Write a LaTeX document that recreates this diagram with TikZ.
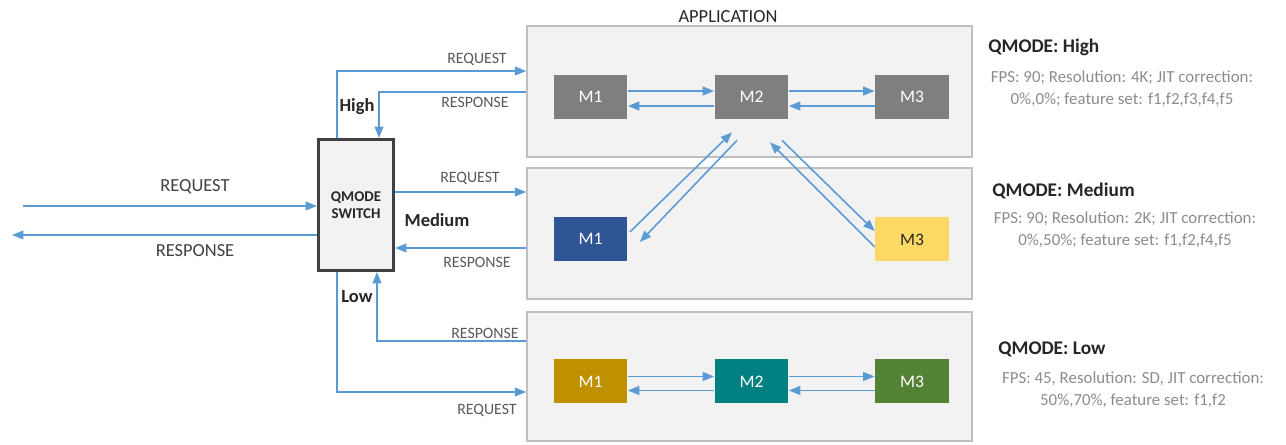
\documentclass[tikz,border=0pt]{standalone}
\usepackage{fontspec}
\setmainfont{Carlito}
\usetikzlibrary{positioning,arrows.meta}
\definecolor{lineblue}{HTML}{5B9BD5}
\definecolor{panelfill}{HTML}{F2F2F2}
\definecolor{panelgray}{HTML}{BFBFBF}
\definecolor{switchgray}{HTML}{404040}
\definecolor{labelgray}{HTML}{404040}
\definecolor{smallgray}{HTML}{595959}
\definecolor{descgray}{HTML}{8C8C8C}
\definecolor{darktext}{HTML}{262626}
\definecolor{modgray}{HTML}{7F7F7F}
\definecolor{modblue}{HTML}{2F5597}
\definecolor{modyellow}{HTML}{FFD966}
\definecolor{modgold}{HTML}{BF9000}
\definecolor{modteal}{HTML}{008080}
\definecolor{modgreen}{HTML}{548235}

\begin{document}
\begin{tikzpicture}[x=0.02cm,y=-0.02cm,
  panel/.style={draw=panelgray,fill=panelfill,line width=0.9pt,minimum width=8.9cm,minimum height=2.62cm},
  module/.style={minimum width=1.48cm,minimum height=0.88cm,text=white,font=\fontsize{10}{12}\selectfont},
  link/.style={draw=lineblue,line width=0.9pt,-{Triangle[length=6.5pt,width=5pt]}},
  biglabel/.style={text=labelgray,font=\fontsize{10.5}{12}\selectfont},
  smalllabel/.style={text=smallgray,font=\fontsize{9}{10}\selectfont},
  modelabel/.style={text=darktext,font=\bfseries\fontsize{10.5}{12}\selectfont},
  qtitle/.style={anchor=west,inner xsep=0pt,text=darktext,font=\bfseries\fontsize{11}{13}\selectfont},
  qtext/.style={align=center,text=descgray,font=\fontsize{9.6}{12.5}\selectfont}]
\useasboundingbox (0,0) rectangle (1286,445);

\node[panel] (ptop) at (749.5,91.5) {};
\node[panel] (pmid) at (749.5,233.5) {};
\node[panel,minimum height=2.58cm] (pbot) at (749.5,376.5) {};
\node[text=darktext,font=\fontsize{10.5}{12}\selectfont] (app) at (728,17) {APPLICATION};

\node[module,fill=modgray] (m1t) at (590.5,97) {M1};
\node[module,fill=modgray] (m2t) at (751.5,97) {M2};
\node[module,fill=modgray] (m3t) at (912,97) {M3};
\node[module,fill=modblue] (m1m) at (590.5,239) {M1};
\node[module,fill=modyellow,text=darktext] (m3m) at (912,239.5) {M3};
\node[module,fill=modgold] (m1b) at (590.5,381.5) {M1};
\node[module,fill=modteal] (m2b) at (751.5,381.5) {M2};
\node[module,fill=modgreen] (m3b) at (912,381.5) {M3};

\node[draw=switchgray,fill=panelfill,line width=1.7pt,minimum width=1.5cm,minimum height=2.62cm,
  align=center,text=darktext,font=\bfseries\fontsize{8.5}{10}\selectfont] (sw) at (356,205) {QMODE\\SWITCH};

% outside world
\coordinate (lin) at (23,206);
\coordinate (lout) at (12,235);
\draw[link] (lin) -- (lin -| sw.west);
\draw[link] (lout -| sw.west) -- (lout);
\node[biglabel] (lreq) at (195,187) {REQUEST};
\node[biglabel] (lres) at (195,251) {RESPONSE};

% high
\coordinate (hiout) at (337,71);
\coordinate (hiin) at (379,92);
\draw[link] (hiout |- sw.north) -- (hiout) -- (hiout -| ptop.west);
\draw[link] (hiin -| ptop.west) -- (hiin) -- (hiin |- sw.north);
\node[smalllabel] (hreq) at (477,59) {REQUEST};
\node[smalllabel] (hres) at (475,102) {RESPONSE};
\node[modelabel] (hi) at (357,107) {High};

% medium
\coordinate (mdout) at (0,192);
\coordinate (mdin) at (0,248);
\draw[link] (mdout -| sw.east) -- (mdout -| pmid.west);
\draw[link] (mdin -| pmid.west) -- (mdin -| sw.east);
\node[smalllabel] (mreq) at (470,178) {REQUEST};
\node[smalllabel] (mres) at (477,262) {RESPONSE};
\node[modelabel] (md) at (437,220) {Medium};

% low
\coordinate (loout) at (337,392);
\coordinate (loin) at (377,341);
\draw[link] (loout |- sw.south) -- (loout) -- (loout -| pbot.west);
\draw[link] (loin -| pbot.west) -- (loin) -- (loin |- sw.south);
\node[smalllabel] (lores) at (485,333) {RESPONSE};
\node[smalllabel] (loreq) at (487,410) {REQUEST};
\node[modelabel] (lo) at (357,297) {Low};

% module links
\draw[link] ([yshift=0.12cm]m1t.east) -- ([yshift=0.12cm]m2t.west);
\draw[link] ([yshift=-0.18cm]m2t.west) -- ([yshift=-0.18cm]m1t.east);
\draw[link] ([yshift=0.12cm]m2t.east) -- ([yshift=0.12cm]m3t.west);
\draw[link] ([yshift=-0.18cm]m3t.west) -- ([yshift=-0.18cm]m2t.east);
\draw[link] ([yshift=0.1cm]m1b.east) -- ([yshift=0.1cm]m2b.west);
\draw[link] ([yshift=-0.18cm]m2b.west) -- ([yshift=-0.18cm]m1b.east);
\draw[link] ([yshift=0.1cm]m2b.east) -- ([yshift=0.1cm]m3b.west);
\draw[link] ([yshift=-0.18cm]m3b.west) -- ([yshift=-0.18cm]m2b.east);
\draw[link] ([shift={(0.04cm,0.14cm)}]m1m.east) -- ([shift={(-0.39cm,-0.26cm)}]m2t.south);
\draw[link] ([shift={(-0.29cm,-0.42cm)}]m2t.south) -- ([shift={(0.24cm,-0.06cm)}]m1m.east);
\draw[link] ([shift={(0.61cm,-0.42cm)}]m2t.south) -- ([yshift=0.17cm]m3m.west);
\draw[link] ([yshift=-0.15cm]m3m.west) -- ([shift={(0.37cm,-0.46cm)}]m2t.south);

% mode settings
\node[qtitle] (qh) at (988,47) {QMODE: High};
\node[qtext] (dh) at (1122,89) {FPS: 90; Resolution: 4K; JIT correction:\\0\%,0\%; feature set: f1,f2,f3,f4,f5};
\node[qtitle] (qm) at (992,191) {QMODE: Medium};
\node[qtext] (dm) at (1125,230) {FPS: 90; Resolution: 2K; JIT correction:\\0\%,50\%; feature set: f1,f2,f4,f5};
\node[qtitle] (ql) at (998,349) {QMODE: Low};
\node[qtext] (dl) at (1133,390) {FPS: 45, Resolution: SD, JIT correction:\\50\%,70\%, feature set: f1,f2};
\end{tikzpicture}
\end{document}
